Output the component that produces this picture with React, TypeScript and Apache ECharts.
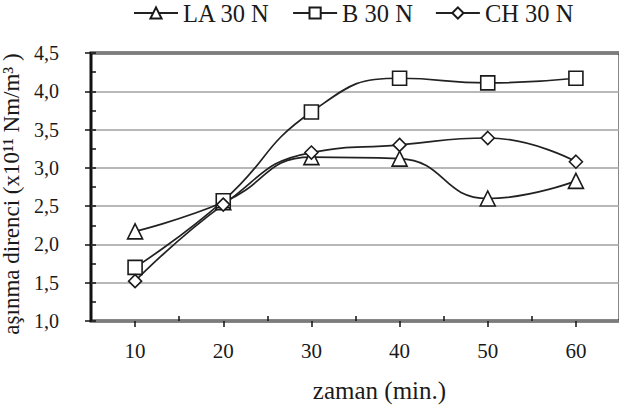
import React, { useEffect, useRef } from "react";
import * as echarts from "echarts";

const categories = ["10", "20", "30", "40", "50", "60"];
const seriesNames = ["LA 30 N", "B 30 N", "CH 30 N"];
const laValues = [2.17, 2.55, 3.14, 3.12, 2.6, 2.83];
const bValues = [1.7, 2.57, 3.73, 4.17, 4.11, 4.17];
const chValues = [1.52, 2.52, 3.2, 3.3, 3.39, 3.08];
const yMin = 1.0;
const yMax = 4.5;
const yStep = 0.5;
const yMinorStep = 0.25;
const xTitle = "zaman (min.)";
const yTitle = "aşınma direnci (x10¹¹ Nm/m³ )";

const FONT = '"Liberation Serif", "Times New Roman", serif';
const INK = "#1a1a1a";

export default function App() {
  const ref = useRef<HTMLDivElement>(null);
  useEffect(() => {
    if (!ref.current) return;
    const chart = echarts.init(ref.current, null, { renderer: "svg" });
    const mk = (name: string, data: number[], symbol: string, size: number) => ({
      name,
      type: "line",
      data,
      smooth: 0.5,
      symbol,
      symbolSize: size,
      showAllSymbol: true,
      itemStyle: { color: "#ffffff", borderColor: INK, borderWidth: 1.6 },
      lineStyle: { color: "#222", width: 1.7 },
      emphasis: { disabled: true },
    });
    chart.setOption({
      animation: false,
      backgroundColor: "#ffffff",
      textStyle: { fontFamily: FONT, color: INK },
      grid: {
        show: true,
        left: 91,
        right: -1,
        top: 53,
        bottom: 84,
        borderColor: "#111",
        borderWidth: 3,
        containLabel: false,
        outerBoundsMode: "none",
      },
      legend: {
        top: 0,
        left: 133,
        padding: 0,
        itemWidth: 44,
        itemHeight: 14,
        itemGap: 22,
        data: seriesNames,
        textStyle: { fontFamily: FONT, fontSize: 24.5, lineHeight: 26, color: INK },
      },
      xAxis: [
        {
          type: "category",
          data: categories,
          boundaryGap: true,
          axisLine: { show: false },
          axisTick: { show: true, alignWithLabel: true, length: 6, lineStyle: { color: "#111", width: 1.5 } },
          axisLabel: { margin: 19, fontSize: 21, fontFamily: FONT, color: INK },
          splitLine: { show: false },
          name: xTitle,
          nameLocation: "middle",
          nameGap: 57,
          nameTextStyle: { fontSize: 25, fontFamily: FONT, color: INK, padding: [0, 0, 0, 48] },
        },
        {
          type: "category",
          data: categories,
          position: "bottom",
          boundaryGap: true,
          axisLine: { show: false },
          axisTick: { show: true, inside: true, length: 5, lineStyle: { color: "#111", width: 1.5 } },
          axisLabel: { show: false },
          splitLine: { show: false },
        },
      ],
      yAxis: [
        {
          type: "value",
          min: yMin,
          max: yMax,
          interval: yStep,
          axisLine: { show: false },
          axisTick: { show: true, length: 6, lineStyle: { color: "#111", width: 1.5 } },
          axisLabel: {
            margin: 32,
            fontSize: 20,
            fontFamily: FONT,
            color: INK,
            formatter: (v: number) => v.toFixed(1).replace(".", ","),
          },
          splitLine: { show: true, lineStyle: { color: "#a0a0a0", width: 1.5 } },
          name: yTitle,
          nameLocation: "middle",
          nameGap: 60,
          nameTextStyle: { fontSize: 23, lineHeight: 23, fontFamily: FONT, color: INK, padding: [0, 14, 0, 0] },
        },
        {
          type: "value",
          min: yMin,
          max: yMax,
          interval: yMinorStep,
          position: "left",
          axisLine: { show: false },
          axisTick: { show: true, inside: true, length: 5, lineStyle: { color: "#111", width: 1.5 } },
          axisLabel: { show: false },
          splitLine: { show: false },
        },
      ],
      series: [
        mk(seriesNames[0], laValues, "triangle", 15),
        mk(seriesNames[1], bValues, "rect", 14),
        mk(seriesNames[2], chValues, "diamond", 13),
      ],
    });
    return () => chart.dispose();
  }, []);
  return (
    <div
      ref={ref}
      style={{ position: "fixed", left: 0, top: 0, width: 619, height: 405, background: "#fff" }}
    />
  );
}
